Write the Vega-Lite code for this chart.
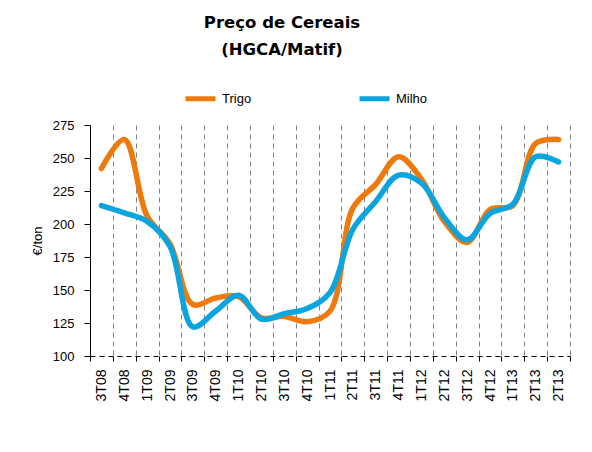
{
  "$schema": "https://vega.github.io/schema/vega-lite/v6.json",
  "width": 480,
  "height": 231,
  "padding": {"left": 31, "top": 14, "right": 5, "bottom": 5},
  "background": "white",
  "title": {
    "text": ["Preço de Cereais", "(HGCA/Matif)"],
    "font": "DejaVu Sans",
    "fontSize": 16.5,
    "fontWeight": "bold",
    "lineHeight": 27,
    "anchor": "middle",
    "frame": "group",
    "dx": -48,
    "offset": 23,
    "color": "black"
  },
  "data": {
    "values": [
      {"periodo": "3T08", "serie": "Trigo", "preco": 242},
      {"periodo": "4T08", "serie": "Trigo", "preco": 264},
      {"periodo": "1T09", "serie": "Trigo", "preco": 206},
      {"periodo": "2T09", "serie": "Trigo", "preco": 185},
      {"periodo": "3T09", "serie": "Trigo", "preco": 139},
      {"periodo": "4T09", "serie": "Trigo", "preco": 144},
      {"periodo": "1T10", "serie": "Trigo", "preco": 145},
      {"periodo": "2T10", "serie": "Trigo", "preco": 129},
      {"periodo": "3T10", "serie": "Trigo", "preco": 130},
      {"periodo": "4T10", "serie": "Trigo", "preco": 126},
      {"periodo": "1T11", "serie": "Trigo", "preco": 134},
      {"periodo": "2T11", "serie": "Trigo", "preco": 212},
      {"periodo": "3T11", "serie": "Trigo", "preco": 230},
      {"periodo": "4T11", "serie": "Trigo", "preco": 251},
      {"periodo": "1T12", "serie": "Trigo", "preco": 234},
      {"periodo": "2T12", "serie": "Trigo", "preco": 202},
      {"periodo": "3T12", "serie": "Trigo", "preco": 186},
      {"periodo": "4T12", "serie": "Trigo", "preco": 211},
      {"periodo": "1T13", "serie": "Trigo", "preco": 214},
      {"periodo": "2T13", "serie": "Trigo", "preco": 261},
      {"periodo": "2T13b", "serie": "Trigo", "preco": 264},
      {"periodo": "3T08", "serie": "Milho", "preco": 214},
      {"periodo": "4T08", "serie": "Milho", "preco": 208.5},
      {"periodo": "1T09", "serie": "Milho", "preco": 202},
      {"periodo": "2T09", "serie": "Milho", "preco": 183},
      {"periodo": "3T09", "serie": "Milho", "preco": 122},
      {"periodo": "4T09", "serie": "Milho", "preco": 134},
      {"periodo": "1T10", "serie": "Milho", "preco": 146},
      {"periodo": "2T10", "serie": "Milho", "preco": 128},
      {"periodo": "3T10", "serie": "Milho", "preco": 132},
      {"periodo": "4T10", "serie": "Milho", "preco": 136},
      {"periodo": "1T11", "serie": "Milho", "preco": 148},
      {"periodo": "2T11", "serie": "Milho", "preco": 196},
      {"periodo": "3T11", "serie": "Milho", "preco": 217},
      {"periodo": "4T11", "serie": "Milho", "preco": 237},
      {"periodo": "1T12", "serie": "Milho", "preco": 231},
      {"periodo": "2T12", "serie": "Milho", "preco": 205},
      {"periodo": "3T12", "serie": "Milho", "preco": 188},
      {"periodo": "4T12", "serie": "Milho", "preco": 208},
      {"periodo": "1T13", "serie": "Milho", "preco": 215},
      {"periodo": "2T13", "serie": "Milho", "preco": 251},
      {"periodo": "2T13b", "serie": "Milho", "preco": 247}
    ]
  },
  "mark": {"type": "line", "interpolate": "catmull-rom", "strokeWidth": 5.5, "strokeCap": "round", "strokeJoin": "round"},
  "encoding": {
    "x": {
      "field": "periodo",
      "type": "ordinal",
      "sort": null,
      "bandPosition": 0.5,
      "scale": {"type": "band", "paddingInner": 0, "paddingOuter": 0},
      "axis": {
        "title": null,
        "labelExpr": "slice(datum.label, 0, 4)",
        "labelAngle": -90,
        "labelAlign": "right",
        "labelBaseline": "middle",
        "labelFont": "Liberation Sans",
        "labelFontSize": 14,
        "labelColor": "black",
        "labelPadding": 8,
        "tickBand": "extent",
        "tickColor": "black",
        "tickSize": 5,
        "domainColor": "black",
        "domainDash": [5, 4],
        "grid": true,
        "gridColor": "#808080",
        "gridDash": [5, 4],
        "gridWidth": 1
      }
    },
    "y": {
      "field": "preco",
      "type": "quantitative",
      "scale": {"domain": [100, 275], "nice": false, "zero": false},
      "axis": {
        "values": [100, 125, 150, 175, 200, 225, 250, 275],
        "title": "€/ton",
        "titleFont": "Liberation Sans",
        "titleFontSize": 13,
        "titleFontWeight": "normal",
        "titleColor": "black",
        "titlePadding": 8,
        "labelFont": "Liberation Sans",
        "labelFontSize": 13,
        "labelColor": "black",
        "labelPadding": 10,
        "tickColor": "black",
        "tickSize": 6,
        "domainColor": "black",
        "grid": false
      }
    },
    "color": {
      "field": "serie",
      "type": "nominal",
      "sort": ["Trigo", "Milho"],
      "scale": {"domain": ["Trigo", "Milho"], "range": ["#EE7A0C", "#0AA5DE"]},
      "legend": {
        "orient": "none",
        "legendX": 93,
        "legendY": -44,
        "direction": "horizontal",
        "title": null,
        "symbolType": "stroke",
        "symbolStrokeWidth": 5,
        "symbolSize": 900,
        "labelFont": "Liberation Sans",
        "labelFontSize": 13,
        "labelColor": "black",
        "labelOffset": 4,
        "columnPadding": 97
      }
    }
  },
  "config": {"view": {"stroke": null}}
}
